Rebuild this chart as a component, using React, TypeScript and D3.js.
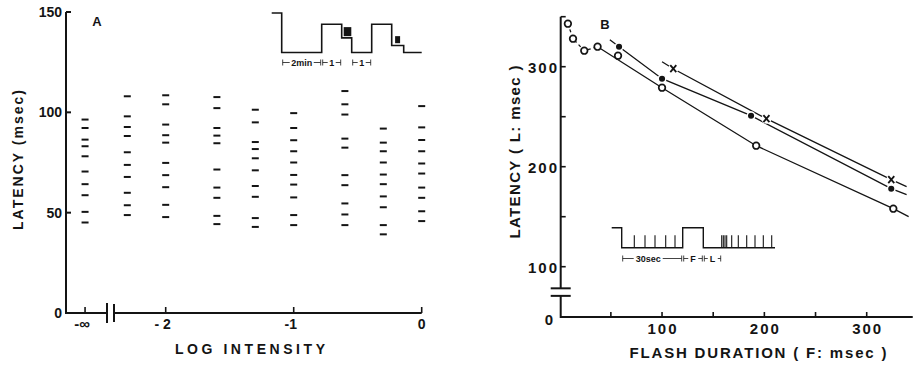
import { useEffect, useRef } from 'react';
import * as d3 from 'd3';

// ---------- panel A : response latencies at each log intensity ----------
// null = dark adapted (-∞)
const logIntensity: (number | null)[] = [null, -2.3, -2, -1.6, -1.3, -1, -0.6, -0.3, 0]
const latencyA: number[][] = [
  [96.4, 92.2, 86.4, 83.1, 78.1, 70.5, 64.2, 58.7, 50.4, 45.1],
  [108, 98, 92.7, 88.2, 80.1, 73.8, 67.8, 59.9, 53.7, 48.8],
  [108.5, 104, 93.9, 88.6, 84.9, 74.8, 68.7, 62.7, 53.9, 47.8],
  [107.6, 102.1, 92.2, 88.4, 84.6, 71.5, 62.5, 57.4, 48.4, 44.3],
  [101.3, 95, 85.2, 81.7, 77.1, 71.1, 63.3, 57.9, 47.3, 42.9],
  [99.6, 92.2, 86.1, 80.6, 75, 68.8, 64, 57.6, 48.8, 43.8],
  [110.6, 104, 98.9, 86.9, 82.4, 68.7, 63.7, 54.6, 49.1, 43.8],
  [91.9, 84.9, 80.6, 75, 69, 64.2, 58.1, 52.7, 43.8, 39.2],
  [103.1, 92.5, 86.2, 80.6, 74.5, 69.5, 62.5, 57.4, 50.7, 45.8],
]
const xTicksA = [-2, -1, 0]
const xTickLabelsA = ['- 2', '-1', '0']
const yTicksA = [0, 50, 100, 150]
const NEG_INF_AT = -2.63 // where the -∞ column sits left of the axis break

// stimulus protocol inset (minutes, relative level)
const protoATime = [-0.5, 0, 2, 3, 3.5, 4.5, 5.5, 6.1, 7]
const protoALevel = [1.4, 0, 1, 0.52, 0, 1, 0.25, 0, 0]
const protoAMarks = [{ t0: 3.1, t1: 3.48, l0: 0.58, l1: 0.9 }, { t0: 5.67, t1: 5.92, l0: 0.33, l1: 0.58 }]
const protoABrackets = [{ t0: 0, t1: 2, label: '2min' }, { t0: 2, t1: 3, label: '1' }, { t0: 3.5, t1: 4.5, label: '1' }]

// ---------- panel B : latency vs flash duration ----------
const openF = [8, 13, 24, 37, 57, 100, 192, 326]
const openL = [343, 328, 316, 320, 311, 279, 221, 158]
const filledF = [58, 100, 187, 324]
const filledL = [320, 288, 251, 178]
const crossF = [111, 202, 324]
const crossL = [298, 248, 187]

// hand drawn fits
const openDashF = [8, 13, 24, 37]
const openDashL = [343, 328, 316, 320]
const openFitF = [37, 100, 192, 326, 341]
const openFitL = [320, 279, 221, 158, 150]
const filledFitF = [49, 58, 100, 187, 324, 339]
const filledFitL = [327, 320, 288, 251, 178, 172]
const crossFitF = [100, 111, 202, 324, 339]
const crossFitL = [305, 298, 248, 187, 180]

const xTicksB = [50, 100, 150, 200, 250, 300]
const xLabelsB = [100, 200, 300]
const yTicksB = [100, 150, 200, 250, 300, 350]
const yLabelsB = [0, 100, 200, 300]

// stimulus inset B (arbitrary time units)
const protoBTime = [0, 1, 7.1, 9.16, 16.33]
const protoBLevel = [1, 0, 1, 0, 0]
const spikesB = [2.26, 3.33, 4.33, 5.4, 6.33, 11, 11.16, 11.33, 11.5, 12, 12.66, 13.5, 14.33, 15.16, 16]
const protoBBrackets = [{ t0: 1, t1: 7.1, label: '30sec' }, { t0: 7.1, t1: 9.16, label: 'F' }, { t0: 9.16, t1: 11, label: 'L' }]

const ink = '#141414'
const font = '"Liberation Sans", Arial, sans-serif'

function App() {
  const ref = useRef<SVGSVGElement>(null)

  useEffect(() => {
    draw()
    // eslint-disable-next-line
  }, [])

  function text(g: any, x: number, y: number, s: string, size: number, anchor = 'middle', len?: number) {
    const t = g.append('text')
      .attr('x', x).attr('y', y)
      .attr('text-anchor', anchor)
      .attr('font-size', size)
      .attr('font-weight', 'bold')
      .attr('font-family', font)
      .attr('fill', ink)
      .text(s)
    if (len) t.attr('textLength', len).attr('lengthAdjust', 'spacing')
    return t
  }

  function line(g: any, x1: number, y1: number, x2: number, y2: number, w = 2) {
    g.append('line')
      .attr('x1', x1).attr('y1', y1).attr('x2', x2).attr('y2', y2)
      .attr('stroke', ink).attr('stroke-width', w)
  }

  function drawPanelA(svg: any) {
    const g = svg.append('g')
    const x = d3.scaleLinear().domain([-2, 0]).range([165.7, 421.7])
    const y = d3.scaleLinear().domain([0, 150]).range([313, 12])
    const axisX = 66
    const breakL = 107, breakR = 114
    const y0 = y(0)

    // axes
    g.append('path')
      .attr('d', `M${axisX},${y(150)}V${y0}H${breakL}`)
      .attr('fill', 'none').attr('stroke', ink).attr('stroke-width', 2)
    line(g, breakR, y0, x(0), y0)
    line(g, breakL, y0 - 10, breakL, y0 + 10)
    line(g, breakR, y0 - 9, breakR, y0 + 9)

    yTicksA.filter(v => v > 0).forEach(v => line(g, axisX, y(v), axisX + 5, y(v)))
    yTicksA.forEach(v => text(g, 62, y(v) + 5, String(v), 14, 'end'))

    line(g, x(NEG_INF_AT), y0, x(NEG_INF_AT), y0 - 6, 1.6)
    text(g, x(NEG_INF_AT) - 3, y0 + 16, '-∞', 15)
    xTicksA.forEach((v, i) => {
      line(g, x(v), y0, x(v), y0 - 6, 1.6)
      text(g, x(v) - (v < 0 ? 3 : 0), y0 + 16, xTickLabelsA[i], 14)
    })

    text(g, 250, 354, 'LOG  INTENSITY', 14, 'middle', 150)
    text(g, 0, 0, 'LATENCY (msec)', 14, 'middle', 140)
      .attr('transform', 'translate(23,160) rotate(-90)')
    text(g, 97, 26, 'A', 13)

    // latency dashes
    logIntensity.forEach((li, i) => {
      const cx = x(li === null ? NEG_INF_AT : li)
      g.append('g').selectAll('line')
        .data(latencyA[i])
        .join('line')
        .attr('x1', cx - 3.5).attr('x2', cx + 3.5)
        .attr('y1', d => y(d)).attr('y2', d => y(d))
        .attr('stroke', ink).attr('stroke-width', 2)
    })

    // protocol inset
    const tx = d3.scaleLinear().domain([0, 2]).range([281.7, 321.7])
    const ly = d3.scaleLinear().domain([0, 1]).range([52.5, 24.3])
    const step = d3.line<number>()
      .x((_, i) => tx(protoATime[i]))
      .y(d => ly(d))
      .curve(d3.curveStepAfter)
    g.append('path')
      .attr('d', step(protoALevel))
      .attr('fill', 'none').attr('stroke', ink).attr('stroke-width', 1.6)
    protoAMarks.forEach(m => {
      g.append('rect')
        .attr('x', tx(m.t0)).attr('width', tx(m.t1) - tx(m.t0))
        .attr('y', ly(m.l1)).attr('height', ly(m.l0) - ly(m.l1))
        .attr('fill', ink)
    })
    const by = 62.5
    protoABrackets.forEach(b => {
      line(g, tx(b.t0) + 1, by, tx(b.t1) - 1, by, 0.8)
      line(g, tx(b.t0) + 1, by - 3, tx(b.t0) + 1, by + 3, 0.8)
      line(g, tx(b.t1) - 1, by - 3, tx(b.t1) - 1, by + 3, 0.8)
      const lab = text(g, (tx(b.t0) + tx(b.t1)) / 2, by + 3.5, b.label, 9)
      const bb = (lab.node() as SVGTextElement).getBBox()
      g.insert('rect', () => lab.node())
        .attr('x', bb.x - 1.5).attr('y', bb.y).attr('width', bb.width + 3).attr('height', bb.height)
        .attr('fill', '#fff')
    })
  }

  function drawPanelB(svg: any) {
    const g = svg.append('g')
    const x = d3.scaleLinear().domain([0, 300]).range([559.7, 866.7])
    const y = d3.scaleLinear().domain([0, 100, 350]).range([317, 266.7, 16.7])
    const ax = x(0) + 1
    const y0 = y(0)
    const brk1 = y(57), brk2 = y(42)

    g.append('path')
      .attr('d', `M${ax},${y(350)}V${brk1}M${ax},${brk2}V${y0}H${x(345)}`)
      .attr('fill', 'none').attr('stroke', ink).attr('stroke-width', 2)
    line(g, ax - 10, brk1, ax + 10, brk1)
    line(g, ax - 10, brk2, ax + 10, brk2)

    yTicksB.forEach(v => line(g, ax, y(v), ax + 5, y(v), 1.6))
    yLabelsB.forEach(v => text(g, v === 0 ? 553 : 557, y(v) + (v === 0 ? 8 : 6), String(v), 15, 'end', v === 0 ? undefined : 29))
    xTicksB.forEach(v => line(g, x(v), y0, x(v), y0 - 5, 1.6))
    xLabelsB.forEach(v => text(g, x(v), y0 + 17, String(v), 15, 'middle', 29))

    text(g, 758, 358, 'FLASH  DURATION ( F: msec )', 15, 'middle', 257)
    text(g, 0, 0, 'LATENCY ( L: msec )', 15, 'middle', 173)
      .attr('transform', 'translate(520,152) rotate(-90)')
    text(g, 605, 29, 'B', 13)

    const path = (fx: number[], fy: number[]) =>
      d3.line<number>().x(d => x(d)).y((_, i) => y(fy[i]))(fx)

    g.append('path').attr('d', path(openDashF, openDashL))
      .attr('fill', 'none').attr('stroke', ink).attr('stroke-width', 1.3).attr('stroke-dasharray', '3,3')
    ;[[openFitF, openFitL], [filledFitF, filledFitL], [crossFitF, crossFitL]].forEach(([fx, fy]) => {
      g.append('path').attr('d', path(fx, fy))
        .attr('fill', 'none').attr('stroke', ink).attr('stroke-width', 1.3)
    })

    g.append('g').selectAll('circle')
      .data(openF)
      .join('circle')
      .attr('cx', d => x(d)).attr('cy', (_, i) => y(openL[i]))
      .attr('r', 3.3)
      .attr('fill', '#fff').attr('stroke', ink).attr('stroke-width', 1.7)

    g.append('g').selectAll('circle')
      .data(filledF)
      .join('circle')
      .attr('cx', d => x(d)).attr('cy', (_, i) => y(filledL[i]))
      .attr('r', 3.8)
      .attr('fill', ink).attr('stroke', '#fff').attr('stroke-width', 1.5)

    const cross = g.append('g').selectAll('g')
      .data(crossF)
      .join('g')
      .attr('transform', (d, i) => `translate(${x(d)},${y(crossL[i])})`)
    cross.append('circle').attr('r', 5).attr('fill', '#fff')
    cross.append('path').attr('d', 'M-3,-3.5L3,3.5M3,-3.5L-3,3.5')
      .attr('stroke', ink).attr('stroke-width', 1.8)

    // protocol inset
    const tx = d3.scaleLinear().domain([0, 10]).range([611.7, 711.7])
    const ly = d3.scaleLinear().domain([0, 1]).range([247.7, 227.7])
    const step = d3.line<number>()
      .x((_, i) => tx(protoBTime[i]))
      .y(d => ly(d))
      .curve(d3.curveStepAfter)
    g.append('path')
      .attr('d', step(protoBLevel))
      .attr('fill', 'none').attr('stroke', ink).attr('stroke-width', 1.4)
    g.append('g').selectAll('line')
      .data(spikesB)
      .join('line')
      .attr('x1', d => tx(d)).attr('x2', d => tx(d))
      .attr('y1', ly(0)).attr('y2', ly(0.62))
      .attr('stroke', ink).attr('stroke-width', 1.1)

    const by = 258.5
    protoBBrackets.forEach(b => {
      line(g, tx(b.t0) + 1, by, tx(b.t1) - 1, by, 0.8)
      line(g, tx(b.t0) + 1, by - 3, tx(b.t0) + 1, by + 3, 0.8)
      line(g, tx(b.t1) - 1, by - 3, tx(b.t1) - 1, by + 3, 0.8)
      const lab = text(g, (tx(b.t0) + tx(b.t1)) / 2 - (b.label === '30sec' ? 4 : 0), by + 3.5, b.label, 9)
      const bb = (lab.node() as SVGTextElement).getBBox()
      g.insert('rect', () => lab.node())
        .attr('x', bb.x - 2).attr('y', bb.y).attr('width', bb.width + 4).attr('height', bb.height)
        .attr('fill', '#fff')
    })
  }

  function draw() {
    const svg = d3.select(ref.current)
    svg.selectAll('*').remove()
    drawPanelA(svg)
    drawPanelB(svg)
  }

  return (
    <svg ref={ref} width={914} height={366}
      style={{ position: 'absolute', left: 0, top: 0, background: '#fff' }} />
  )
}

export default App
